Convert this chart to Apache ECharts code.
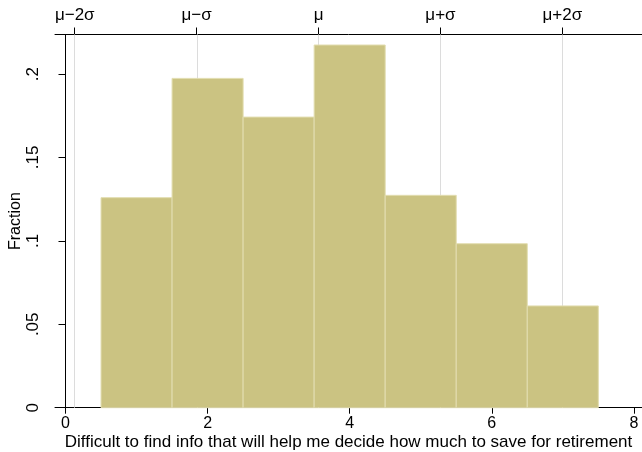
<!DOCTYPE html>
<html>
<head>
<meta charset="utf-8">
<script src="https://cdn.jsdelivr.net/npm/echarts@6/dist/echarts.min.js"></script>
<style>
html,body{margin:0;padding:0;background:#fff;}
#c{width:642px;height:452px;}
</style>
</head>
<body>
<div id="c"></div>
<script>
// Data
const binCenters = [1, 2, 3, 4, 5, 6, 7];
const fractions = [0.1259, 0.1974, 0.1742, 0.2174, 0.1273, 0.0983, 0.0610];
const binWidth = 1;
const xTicks = [0, 2, 4, 6, 8];
const yTicks = [0, 0.05, 0.1, 0.15, 0.2];
const yTickLabels = ['0', '.05', '.1', '.15', '.2'];
const mu = 3.562;
const sigma = 1.716;
const sigmaMultiples = [-2, -1, 0, 1, 2];
const sigmaLabels = ['μ\u22122σ', 'μ\u2212σ', 'μ', 'μ+σ', 'μ+2σ'];
const xTitle = 'Difficult to find info that will help me decide how much to save for retirement';
const yTitle = 'Fraction';

const sigmaPositions = sigmaMultiples.map(k => mu + k * sigma);

const FONT = '"Liberation Sans", Arial, sans-serif';
const XMIN = -0.148, XMAX = 8.115, YMAX = 0.2237;

function nearestLabel(v, positions, labels) {
  let best = 0, d = Infinity;
  positions.forEach((p, i) => { if (Math.abs(p - v) < d) { d = Math.abs(p - v); best = i; } });
  return labels[best];
}

const chart = echarts.init(document.getElementById('c'), null, {renderer: 'canvas'});
const axisLine = {show: true, lineStyle: {color: '#000', width: 1}};
const option = {
  animation: false,
  backgroundColor: '#fff',
  grid: {left: 55, top: 34.5, right: 0, bottom: 44.3, containLabel: false, outerBoundsMode: 'none'},
  xAxis: [
    {
      type: 'value', position: 'bottom', min: XMIN, max: XMAX,
      axisLine: axisLine,
      axisTick: {show: true, length: 6, lineStyle: {color: '#000'}, customValues: xTicks},
      axisLabel: {show: true, customValues: xTicks, color: '#000', fontFamily: FONT, fontSize: 16, margin: 8},
      splitLine: {show: false},
      name: xTitle, nameLocation: 'middle', nameGap: 26, nameMoveOverlap: false,
      nameTextStyle: {color: '#000', fontFamily: FONT, fontSize: 17}
    },
    {
      type: 'value', position: 'top', min: XMIN, max: XMAX,
      axisLine: axisLine,
      axisTick: {show: true, length: 7, lineStyle: {color: '#000'}, customValues: sigmaPositions},
      axisLabel: {show: true, customValues: sigmaPositions, color: '#000', fontFamily: FONT, fontSize: 17, margin: 11,
        formatter: v => nearestLabel(v, sigmaPositions, sigmaLabels)},
      splitLine: {show: false}
    }
  ],
  yAxis: {
    type: 'value', min: 0, max: YMAX,
    axisLine: axisLine,
    axisTick: {show: true, length: 7, lineStyle: {color: '#000'}, customValues: yTicks},
    axisLabel: {show: true, customValues: yTicks, rotate: 90, color: '#000', fontFamily: FONT, fontSize: 17, margin: 13,
      formatter: v => nearestLabel(v, yTicks, yTickLabels)},
    splitLine: {show: false},
    name: yTitle, nameLocation: 'middle', nameGap: 31, nameRotate: 90, nameMoveOverlap: false,
    nameTextStyle: {color: '#000', fontFamily: FONT, fontSize: 16}
  },
  series: [
    {
      type: 'line', data: [], z: 1, silent: true,
      markLine: {
        silent: true, symbol: 'none', label: {show: false}, animation: false, z: 1,
        lineStyle: {color: '#dcdcdc', width: 1, type: 'solid'},
        data: sigmaPositions.map(p => ({xAxis: p}))
      }
    },
    {
      type: 'custom', z: 10,
      data: binCenters.map((c, i) => [c, fractions[i]]),
      renderItem: (params, api) => {
        const c = api.value(0), v = api.value(1);
        const p0 = api.coord([c - binWidth / 2, v]);
        const p1 = api.coord([c + binWidth / 2, 0]);
        return {
          type: 'rect',
          shape: {x: p0[0], y: p0[1], width: p1[0] - p0[0], height: p1[1] - p0[1]},
          style: {fill: '#cbc382', stroke: '#e2ddb0', lineWidth: 1}
        };
      }
    }
  ]
};
chart.setOption(option);
</script>
</body>
</html>
